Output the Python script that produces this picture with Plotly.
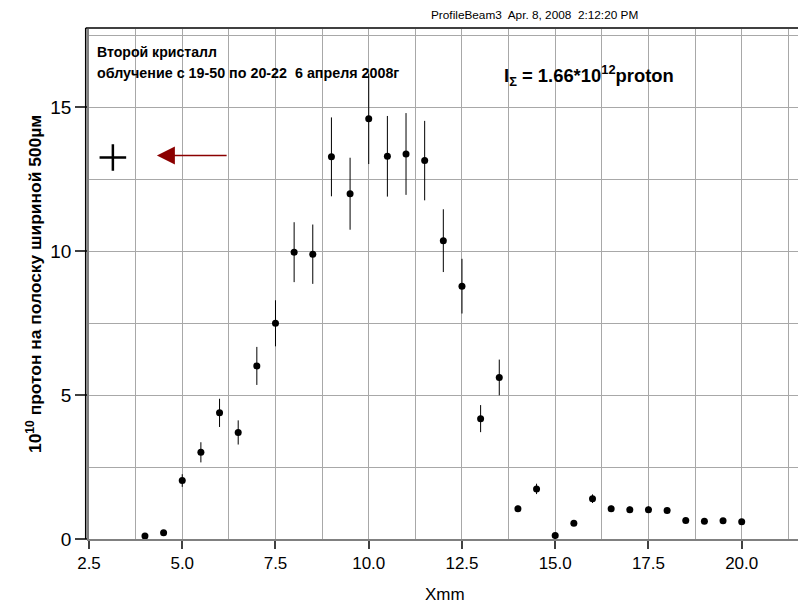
import plotly.graph_objects as go

# ---- data ----
x_mm = [4.0, 4.5, 5.0, 5.5, 6.0, 6.5, 7.0, 7.5, 8.0, 8.5, 9.0, 9.5, 10.0, 10.5,
        11.0, 11.5, 12.0, 12.5, 13.0, 13.5, 14.0, 14.5, 15.0, 15.5, 16.0, 16.5,
        17.0, 17.5, 18.0, 18.5, 19.0, 19.5, 20.0]
protons = [0.10, 0.22, 2.03, 3.01, 4.38, 3.70, 6.01, 7.49, 9.96, 9.89, 13.27, 11.99,
           14.59, 13.29, 13.37, 13.14, 10.36, 8.78, 4.18, 5.61, 1.05, 1.74, 0.12, 0.55,
           1.40, 1.05, 1.02, 1.02, 0.99, 0.64, 0.62, 0.63, 0.60]
errors = [0.01, 0.03, 0.22, 0.35, 0.49, 0.42, 0.66, 0.80, 1.04, 1.03, 1.37, 1.25,
          1.57, 1.40, 1.42, 1.38, 1.09, 0.95, 0.47, 0.62, 0.11, 0.18, 0.02, 0.06,
          0.15, 0.11, 0.11, 0.11, 0.10, 0.07, 0.07, 0.07, 0.06]

x_ticks = [2.5, 5.0, 7.5, 10.0, 12.5, 15.0, 17.5, 20.0]
y_ticks = [0, 5, 10, 15]
x_range = [2.5, 21.59]
y_range = [0, 17.71]

# marker "+" and arrow (annotation positions in data units)
plus_pos = (3.14, 13.25)
arrow_tip = (4.32, 13.32)
arrow_tail = (6.23, 13.32)

FONT = "Arial, Liberation Sans, sans-serif"
GRID = "#a8a8a8"

fig = go.Figure()
fig.add_trace(go.Scatter(
    x=x_mm, y=protons, mode="markers",
    marker=dict(color="black", size=7),
    error_y=dict(type="data", array=errors, visible=True,
                 color="black", thickness=1, width=0),
    showlegend=False, hoverinfo="x+y"))

fig.add_trace(go.Scatter(
    x=[plus_pos[0]], y=[plus_pos[1]], mode="markers",
    marker=dict(symbol="cross-thin", size=19, color="black",
                line=dict(color="black", width=2.5)),
    showlegend=False, hoverinfo="skip"))

# page body has an 8px default margin, so the figure is offset by 8px
fig.update_layout(
    width=806, height=605,
    margin=dict(l=81, r=13, t=21, b=73.5, autoexpand=False),
    paper_bgcolor="white", plot_bgcolor="white",
    font=dict(family=FONT, color="black"),
    xaxis=dict(range=x_range, tickvals=x_ticks, tickformat=".1f",
               automargin=False,
               showgrid=True, gridcolor=GRID, gridwidth=1,
               minor=dict(dtick=1.25, tick0=2.5, showgrid=True,
                          gridcolor=GRID, gridwidth=1, ticks=""),
               showline=True, linecolor="#808080", linewidth=1.5,
               ticks="outside", ticklen=8, tickcolor="#404040", tickwidth=1.5,
               tickfont=dict(size=17, family=FONT, color="black"),
               zeroline=False),
    yaxis=dict(range=y_range, tickvals=y_ticks,
               automargin=False,
               showgrid=True, gridcolor=GRID, gridwidth=1,
               minor=dict(dtick=2.5, tick0=0, showgrid=True,
                          gridcolor=GRID, gridwidth=1, ticks=""),
               showline=True, linecolor="#808080", linewidth=1.5,
               ticks="outside", ticklen=12, tickcolor="#404040", tickwidth=1.5,
               tickfont=dict(size=19, family=FONT, color="black"),
               zeroline=False),
)

# frame (black on left, top, right)
lx = -3.3 / 712
fig.add_shape(type="line", xref="paper", yref="paper", x0=lx, x1=lx, y0=0, y1=1.002,
              line=dict(color="black", width=1.5))
fig.add_shape(type="line", xref="paper", yref="paper", x0=lx, x1=1, y0=1.002, y1=1.002,
              line=dict(color="black", width=1.5))
fig.add_shape(type="line", xref="paper", yref="paper", x0=0.998, x1=0.998, y0=0, y1=1.002,
              line=dict(color="black", width=2.5))

annotations = [
    dict(text="ProfileBeam3  Apr. 8, 2008  2:12:20 PM", xref="paper", yref="paper",
         x=0.626, y=1.027, xanchor="center", yanchor="middle", showarrow=False,
         font=dict(size=11.8, family=FONT)),
    dict(text="<b>Второй кристалл</b>", xref="paper", yref="paper",
         x=0.0084, y=0.954, xanchor="left", yanchor="middle", showarrow=False,
         font=dict(size=14.1, family=FONT)),
    dict(text="<b>облучение с 19-50 по 20-22  6 апреля 2008г</b>", xref="paper", yref="paper",
         x=0.0084, y=0.913, xanchor="left", yanchor="middle", showarrow=False,
         font=dict(size=14.3, family=FONT)),
    dict(text="<b>I<sub>Σ</sub> = 1.66*10<sup>12</sup>proton</b>", xref="paper", yref="paper",
         x=0.58, y=0.909, xanchor="left", yanchor="middle", showarrow=False,
         font=dict(size=18.4, family=FONT)),
    dict(text="Xmm", xref="paper", yref="paper",
         x=0.5, y=-0.109, xanchor="center", yanchor="middle", showarrow=False,
         font=dict(size=17, family=FONT)),
    dict(text="<b>10<sup>10</sup> протон на полоску шириной 500µм</b>", xref="paper", yref="paper",
         x=-0.0772, y=0.5, xanchor="center", yanchor="middle", showarrow=False,
         textangle=-90, font=dict(size=17.4, family=FONT)),
    dict(text="", x=arrow_tip[0], y=arrow_tip[1], xref="x", yref="y",
         ax=arrow_tail[0], ay=arrow_tail[1], axref="x", ayref="y",
         showarrow=True, arrowhead=2, arrowsize=2.4, arrowwidth=1.5,
         arrowcolor="#8b0000", standoff=0),
]
fig.update_layout(annotations=annotations)

fig.write_html("out.html")
